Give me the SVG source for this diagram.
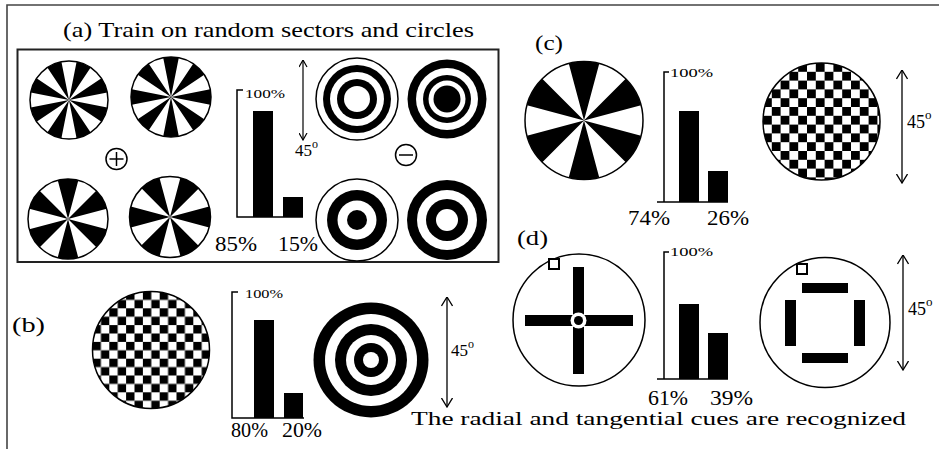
<svg xmlns="http://www.w3.org/2000/svg" width="939" height="449" viewBox="0 0 939 449">
<defs>
<style>
text{font-family:"Liberation Serif","Times New Roman",serif;fill:#000}
.t{font-size:21px}
.p{font-size:20px}
.s{font-size:12px}
.ax{stroke:#000;stroke-width:1.5;fill:none}
.o{fill:none;stroke:#000;stroke-width:1.5}
.k{fill:#000}
.w{fill:#fff}
.sec{fill:none;stroke:#000;stroke-dasharray:1 1}
.arr{stroke:#000;stroke-width:1.3;fill:none;marker-start:url(#ah);marker-end:url(#ah)}
.arrs{stroke:#000;stroke-width:1.2;fill:none;marker-start:url(#ahs);marker-end:url(#ahs)}
</style>
<marker id="ah" viewBox="0 0 10 12" refX="9.5" refY="6" markerWidth="10" markerHeight="12" markerUnits="userSpaceOnUse" orient="auto-start-reverse"><path d="M0.5,0.5 L9.5,6 L0.5,11.5" fill="none" stroke="#000" stroke-width="1.3"/></marker>
<marker id="ahs" viewBox="0 0 8 9" refX="7.5" refY="4.5" markerWidth="8" markerHeight="9" markerUnits="userSpaceOnUse" orient="auto-start-reverse"><path d="M0.5,0.5 L7.5,4.5 L0.5,8.5" fill="none" stroke="#000" stroke-width="1.2"/></marker>
<pattern id="chkB" width="16.8" height="16.8" patternUnits="userSpaceOnUse" patternTransform="translate(92.5,291.5)"><rect width="16.8" height="16.8" fill="#fff"/><rect width="8.4" height="8.4" fill="#000"/><rect x="8.4" y="8.4" width="8.4" height="8.4" fill="#000"/></pattern>
<pattern id="chkC" width="17.6" height="17.6" patternUnits="userSpaceOnUse" patternTransform="translate(763,63)"><rect width="17.6" height="17.6" fill="#fff"/><rect width="8.8" height="8.8" fill="#000"/><rect x="8.8" y="8.8" width="8.8" height="8.8" fill="#000"/></pattern>
</defs>
<rect width="939" height="449" fill="#fff"/>
<path d="M7,449 V5 H939" fill="none" stroke="#444" stroke-width="1.6"/>

<g id="panel-a">
<text class="t" x="63" y="37" textLength="411" lengthAdjust="spacingAndGlyphs">(a) Train on random sectors and circles</text>
<rect x="17.5" y="49.5" width="481" height="212.5" fill="none" stroke="#222" stroke-width="2"/>
<g id="a-wheel1" transform="translate(69,100)"><circle r="39" class="w"/><circle r="19.5" class="sec" stroke-width="39" pathLength="16" transform="rotate(11.25)"/><circle r="39" class="o"/></g>
<g id="a-wheel2" transform="translate(171,97)"><circle r="40" class="w"/><circle r="20" class="sec" stroke-width="40" pathLength="16" transform="rotate(-11.25)"/><circle r="40" class="o"/></g>
<g id="a-wheel3" transform="translate(68,219)"><circle r="40" class="w"/><circle r="20" class="sec" stroke-width="40" pathLength="12" transform="rotate(15)"/><circle r="40" class="o"/></g>
<g id="a-wheel4" transform="translate(170,217)"><circle r="40.5" class="w"/><circle r="20.25" class="sec" stroke-width="40.5" pathLength="12" transform="rotate(-15)"/><circle r="40.5" class="o"/></g>
<g id="a-plus"><circle cx="116.5" cy="159" r="10.5" class="o" stroke-width="1.3"/><path d="M109.5,159 H123.5 M116.5,152 V166" class="ax" stroke-width="1.3"/></g>
<g id="a-chart">
<path d="M243,90 H237 V217 H303" class="ax"/>
<rect x="253" y="111" width="20" height="106" class="k"/>
<rect x="283" y="197" width="20" height="20" class="k"/>
<text class="s" x="245" y="98" textLength="40" lengthAdjust="spacingAndGlyphs">100%</text>
<text class="t" x="215" y="251" textLength="42" lengthAdjust="spacingAndGlyphs">85%</text>
<text class="t" x="278" y="251" textLength="40" lengthAdjust="spacingAndGlyphs">15%</text>
</g>
<g id="a-angle"><line x1="303" y1="60" x2="303" y2="140" class="arrs"/><text x="295" y="156" font-size="17">45<tspan dy="-8" font-size="12">o</tspan></text></g>
<g id="a-ring1" transform="translate(357,99)"><circle r="41" class="o w"/><circle r="34" class="k"/><circle r="27" class="w"/><circle r="20" class="k"/><circle r="13" class="w"/></g>
<g id="a-ring2" transform="translate(447,99)"><circle r="39.5" class="k"/><circle r="31" class="w"/><circle r="24" class="k"/><circle r="18.5" class="w"/><circle r="13.5" class="k"/></g>
<g id="a-ring3" transform="translate(357,220)"><circle r="41" class="o w"/><circle r="30" class="k"/><circle r="19.5" class="w"/><circle r="10" class="k"/></g>
<g id="a-ring4" transform="translate(447,220)"><circle r="40" class="k"/><circle r="30" class="w"/><circle r="21" class="k"/><circle r="11" class="w"/></g>
<g id="a-minus"><circle cx="406" cy="155" r="10.5" class="o" stroke-width="1.3"/><path d="M399,155 H413" class="ax" stroke-width="1.3"/></g>
</g>

<g id="panel-b">
<text class="t" x="12" y="332" textLength="33" lengthAdjust="spacingAndGlyphs">(b)</text>
<g id="b-checker"><circle cx="151" cy="350" r="58.5" fill="url(#chkB)" stroke="#000" stroke-width="1.5"/></g>
<g id="b-chart">
<path d="M238,292 H232 V418 H304" class="ax"/>
<rect x="254" y="320" width="20" height="98" class="k"/>
<rect x="284" y="393" width="19" height="25" class="k"/>
<text class="s" x="245" y="298" textLength="38" lengthAdjust="spacingAndGlyphs">100%</text>
<text class="p" x="231" y="437" textLength="37" lengthAdjust="spacingAndGlyphs">80%</text>
<text class="p" x="282" y="437" textLength="40" lengthAdjust="spacingAndGlyphs">20%</text>
</g>
<g id="b-target" transform="translate(371,360)"><circle r="57.5" class="k"/><circle r="46" class="w"/><circle r="36" class="k"/><circle r="25" class="w"/><circle r="17" class="k"/><circle r="8" class="w"/></g>
<g id="b-angle"><line x1="447" y1="297" x2="447" y2="407" class="arr"/><text x="451" y="356" font-size="17">45<tspan dy="-8" font-size="12">o</tspan></text></g>
</g>

<g id="panel-c">
<text class="t" x="535" y="50" textLength="28" lengthAdjust="spacingAndGlyphs">(c)</text>
<g id="c-wheel" transform="translate(584,120.5)"><circle r="59" class="w"/><circle r="29.5" class="sec" stroke-width="59" pathLength="12" transform="rotate(15)"/><circle r="59" class="o"/></g>
<g id="c-chart">
<path d="M669,72 H664 V202 M657,202 H728" class="ax"/>
<rect x="679" y="111" width="20" height="91" class="k"/>
<rect x="708" y="171" width="20" height="31" class="k"/>
<text class="s" x="670" y="77" textLength="43" lengthAdjust="spacingAndGlyphs">100%</text>
<text class="p" x="628" y="225" textLength="42" lengthAdjust="spacingAndGlyphs">74%</text>
<text class="p" x="707" y="225" textLength="42" lengthAdjust="spacingAndGlyphs">26%</text>
</g>
<g id="c-checker"><circle cx="821.5" cy="121.5" r="58.5" fill="url(#chkC)" stroke="#000" stroke-width="1.5"/></g>
<g id="c-angle"><line x1="902" y1="70" x2="902" y2="183" class="arr"/><text x="907" y="128" font-size="18">45<tspan dy="-9" font-size="13">o</tspan></text></g>
</g>

<g id="panel-d">
<text class="t" x="517" y="245" textLength="31" lengthAdjust="spacingAndGlyphs">(d)</text>
<g id="d-cross">
<circle cx="579" cy="320" r="66" class="o"/>
<rect x="549" y="259" width="10" height="10" class="w" stroke="#000" stroke-width="2"/>
<rect x="573" y="267" width="11" height="107" class="k"/>
<rect x="525" y="315" width="108" height="11" class="k"/>
<circle cx="578.5" cy="320.5" r="8" class="w"/>
<circle cx="578.5" cy="320.5" r="4.5" class="k"/>
</g>
<g id="d-chart">
<path d="M669,252 H664 V379 M657,379 H728" class="ax"/>
<rect x="679" y="304" width="20" height="75" class="k"/>
<rect x="708" y="333" width="20" height="46" class="k"/>
<text class="s" x="670" y="256" textLength="43" lengthAdjust="spacingAndGlyphs">100%</text>
<text class="p" x="648" y="405" textLength="40" lengthAdjust="spacingAndGlyphs">61%</text>
<text class="p" x="710" y="405" textLength="43" lengthAdjust="spacingAndGlyphs">39%</text>
</g>
<g id="d-square">
<circle cx="825" cy="322.5" r="65" class="o"/>
<rect x="797" y="264" width="10" height="10" class="w" stroke="#000" stroke-width="2"/>
<rect x="802" y="283" width="46" height="10" class="k"/>
<rect x="802" y="353" width="46" height="10" class="k"/>
<rect x="785" y="300" width="11" height="46" class="k"/>
<rect x="854" y="300" width="11" height="46" class="k"/>
</g>
<g id="d-angle"><line x1="903" y1="255" x2="903" y2="370" class="arr"/><text x="908" y="315" font-size="18">45<tspan dy="-9" font-size="13">o</tspan></text></g>
<text id="caption" x="411" y="425" font-size="18" textLength="495" lengthAdjust="spacingAndGlyphs">The radial and tangential cues are recognized</text>
</g>
</svg>
